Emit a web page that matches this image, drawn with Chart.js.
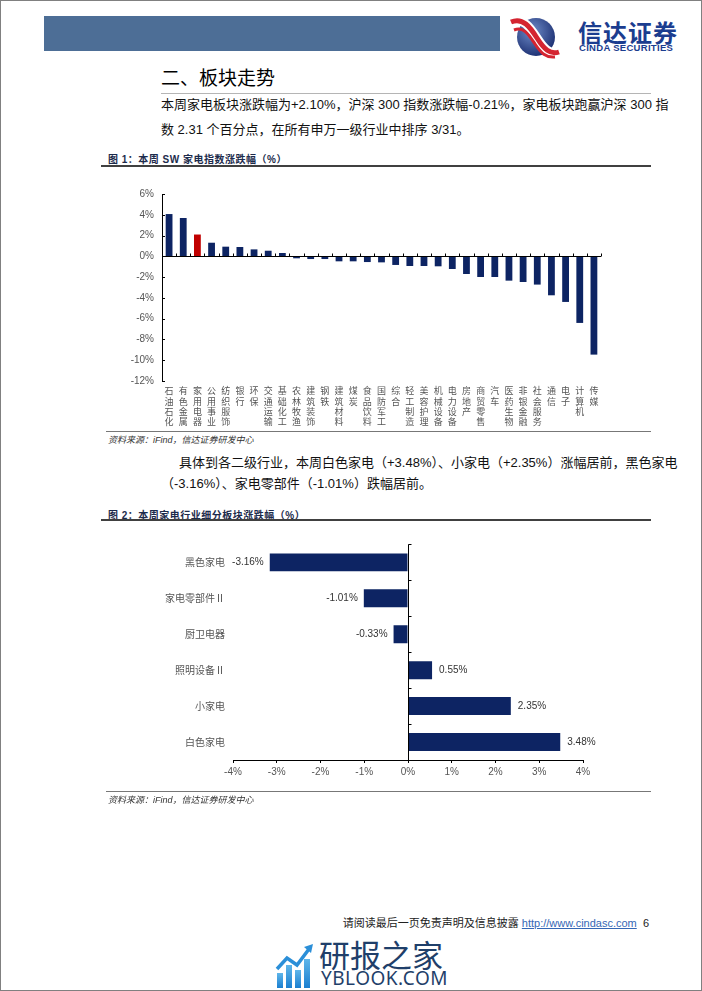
<!DOCTYPE html>
<html>
<head>
<meta charset="utf-8">
<script src="https://cdn.jsdelivr.net/npm/chart.js@4.4.0/dist/chart.umd.min.js"></script>
<style>
html, body { margin: 0; padding: 0; background: #fff; }
#page { position: relative; width: 700px; height: 989px; border: 1px solid #808080; overflow: hidden;
  font-family: "Liberation Sans", "Noto Sans CJK SC", sans-serif; color: #000; }
.abs { position: absolute; }
.para div { white-space: nowrap; }
.just { text-align: justify; text-align-last: justify; }
.figtitle { font-size: 10px; font-weight: bold; color: #1c2b4c; letter-spacing: 0.5px; }
.src { font-size: 9px; font-style: italic; color: #333; }
</style>
</head>
<body>
<div id="page">
  <!-- header band + logo -->
  <div class="abs" style="left:43px;top:15px;width:456px;height:35px;background:#4d6e96;"></div>
  <svg class="abs" style="left:509px;top:14px;" width="50" height="44" viewBox="0 0 50 44">
    <defs>
      <radialGradient id="lg" cx="40%" cy="35%" r="70%">
        <stop offset="0" stop-color="#6f8cc8"/><stop offset="1" stop-color="#1a2d70"/>
      </radialGradient>
    </defs>
    <circle cx="26" cy="22" r="19" fill="url(#lg)"/>
    <path d="M1 7 C 13 2, 20 12, 27 23 S 40 40, 49 37" stroke="#fff" stroke-width="9" fill="none"/>
    <path d="M1 7 C 13 2, 20 12, 27 23 S 40 40, 49 37" stroke="#d42430" stroke-width="5" fill="none"/>
    <path d="M4 15 C 14 11, 19 20, 25 29 S 36 43, 45 42" stroke="#d42430" stroke-width="3" fill="none"/>
  </svg>
  <div class="abs" style="left:577px;top:17px;font-size:24px;font-weight:bold;color:#1b3d8f;font-family:'Noto Sans CJK SC';line-height:28px;letter-spacing:1px;">信达证券</div>
  <div class="abs" style="left:578px;top:42px;font-size:9.5px;font-weight:bold;color:#1b3d8f;line-height:10px;letter-spacing:0.3px;">CINDA SECURITIES</div>

  <!-- section heading -->
  <div class="abs" style="left:160px;top:63px;font-size:19px;line-height:26px;font-family:'Noto Sans CJK SC';">二、板块走势</div>
  <div class="abs" style="left:160px;top:92px;width:490px;height:1px;background:#b5b5b5;"></div>

  <div class="abs para" style="left:160px;top:91px;width:490px;font-size:13px;line-height:25px;color:#111;">
    <div class="just">本周家电板块涨跌幅为+2.10%，沪深 300 指数涨跌幅-0.21%，家电板块跑赢沪深 300 指</div>
    <div>数 2.31 个百分点，在所有申万一级行业中排序 3/31。</div>
  </div>

  <!-- figure 1 -->
  <div class="abs figtitle" style="left:107px;top:150px;">图 1：本周 SW 家电指数涨跌幅（%）</div>
  <div class="abs" style="left:100px;top:164px;width:550px;height:2px;background:#404040;"></div>
  <div class="abs" style="left:110px;top:179px;width:500px;height:251px;"><canvas id="c1"></canvas></div>
  <div class="abs" style="left:105px;top:430px;width:545px;height:1px;background:#777;"></div>
  <div class="abs src" style="left:107px;top:432px;">资料来源：iFind，信达证券研发中心</div>

  <div class="abs para" style="left:160px;top:451px;width:490px;font-size:13px;line-height:21px;color:#111;">
    <div class="just" style="padding-left:18px;">具体到各二级行业，本周白色家电（+3.48%）、小家电（+2.35%）涨幅居前，黑色家电</div>
    <div>（-3.16%）、家电零部件（-1.01%）跌幅居前。</div>
  </div>

  <!-- figure 2 -->
  <div class="abs figtitle" style="left:107px;top:506px;">图 2：本周家电行业细分板块涨跌幅（%）</div>
  <div class="abs" style="left:100px;top:518px;width:550px;height:2px;background:#404040;"></div>
  <div class="abs" style="left:130px;top:530px;width:470px;height:262px;"><canvas id="c2"></canvas></div>
  <div class="abs" style="left:105px;top:790px;width:545px;height:1px;background:#777;"></div>
  <div class="abs src" style="left:107px;top:792px;">资料来源：iFind，信达证券研发中心</div>

  <!-- footer -->
  <div class="abs" style="right:52px;top:914px;font-size:11px;line-height:16px;color:#222;">
    请阅读最后一页免责声明及信息披露 <span style="color:#3567b5;text-decoration:underline;">http://www.cindasc.com</span>&nbsp;&nbsp;6
  </div>

  <!-- watermark -->
  <svg class="abs" style="left:274px;top:942px;" width="40" height="46" viewBox="0 0 40 46">
    <defs>
      <linearGradient id="wg" x1="0" y1="1" x2="0" y2="0">
        <stop offset="0" stop-color="#1b7fd0"/><stop offset="1" stop-color="#5fb6ea"/>
      </linearGradient>
    </defs>
    <rect x="2" y="30" width="6" height="15" fill="url(#wg)"/>
    <rect x="11" y="22" width="6" height="23" fill="url(#wg)"/>
    <rect x="20" y="27" width="6" height="18" fill="url(#wg)"/>
    <rect x="29" y="16" width="6" height="29" fill="url(#wg)"/>
    <path d="M2 26 L12 15 L22 22 L34 6" stroke="#2b8fd8" stroke-width="3.5" fill="none"/>
    <path d="M29 4 L38 1 L36 10 Z" fill="#2b8fd8"/>
  </svg>
  <div class="abs" style="left:318px;top:935px;font-size:31px;line-height:36px;color:#1f3f6a;font-family:'Noto Sans CJK SC';">研报之家</div>
  <div class="abs" style="left:320px;top:966px;font-size:19px;line-height:22px;color:#1f3f6a;font-family:'Noto Sans','DejaVu Sans';letter-spacing:0.5px;">YBLOOK.COM</div>
</div>

<script>
// ---- figure 1: 申万一级行业周涨跌幅 (%) ----
const industries = ['石油石化','有色金属','家用电器','公用事业','纺织服饰','银行','环保','交通运输','基础化工','农林牧渔','建筑装饰','钢铁','建筑材料','煤炭','食品饮料','国防军工','综合','轻工制造','美容护理','机械设备','电力设备','房地产','商贸零售','汽车','医药生物','非银金融','社会服务','通信','电子','计算机','传媒'];
const industryChange = [4.07, 3.69, 2.10, 1.31, 0.93, 0.90, 0.67, 0.54, 0.32, -0.19, -0.26, -0.26, -0.48, -0.48, -0.55, -0.58, -0.83, -0.93, -0.93, -0.96, -1.22, -1.70, -1.99, -1.99, -2.34, -2.47, -2.72, -3.75, -4.39, -6.41, -9.46];
const highlight = '家用电器';
const yTicks1 = [-12, -10, -8, -6, -4, -2, 0, 2, 4, 6];

// ---- figure 2: 家电细分板块周涨跌幅 (%) ----
const subSectors = ['黑色家电','家电零部件Ⅱ','厨卫电器','照明设备Ⅱ','小家电','白色家电'];
const subChange = [-3.16, -1.01, -0.33, 0.55, 2.35, 3.48];
const xTicks2 = [-4, -3, -2, -1, 0, 1, 2, 3, 4];

const navy = '#0d2463';
const red = '#c00000';
const tickFont = { family: 'Liberation Sans', size: 10 };
const catFont = { family: 'Noto Sans CJK SC', size: 10, lineHeight: 1.08 };
const vertFont = { family: 'Noto Sans CJK SC', size: 9, lineHeight: 1.12 };

// zero line with small boundary ticks, value ticks pointing inward
const axisMarks = {
  id: 'axisMarks',
  afterDatasetsDraw(chart) {
    const ctx = chart.ctx, a = chart.chartArea;
    const horiz = chart.options.indexAxis === 'y';
    const cat = horiz ? chart.scales.y : chart.scales.x;
    const val = horiz ? chart.scales.x : chart.scales.y;
    const z = Math.round(val.getPixelForValue(0)) + 0.5;
    const n = chart.data.labels.length;
    ctx.save();
    ctx.strokeStyle = '#000';
    ctx.lineWidth = 1;
    ctx.beginPath();
    if (horiz) { ctx.moveTo(z, a.top); ctx.lineTo(z, a.bottom); }
    else { ctx.moveTo(a.left, z); ctx.lineTo(a.right, z); }
    for (let i = 0; i <= n; i++) {
      let p;
      if (i === 0) p = horiz ? a.top : a.left;
      else if (i === n) p = horiz ? a.bottom : a.right;
      else p = (cat.getPixelForValue(i - 1) + cat.getPixelForValue(i)) / 2;
      p = Math.round(p) + 0.5;
      if (horiz) { ctx.moveTo(z, p); ctx.lineTo(z + 3, p); }
      else { ctx.moveTo(p, z); ctx.lineTo(p, z - 3); }
    }
    if (!horiz) {
      val.ticks.forEach(t => {
        const y = Math.round(val.getPixelForValue(t.value)) + 0.5;
        ctx.moveTo(a.left, y); ctx.lineTo(a.left + 3, y);
      });
    }
    ctx.stroke();
    ctx.restore();
  }
};

const barLabels = {
  id: 'barLabels',
  afterDatasetsDraw(chart) {
    const ctx = chart.ctx;
    const meta = chart.getDatasetMeta(0);
    ctx.save();
    ctx.font = '10px "Liberation Sans"';
    ctx.fillStyle = '#333';
    ctx.textBaseline = 'middle';
    meta.data.forEach((el, i) => {
      const v = chart.data.datasets[0].data[i];
      const txt = v.toFixed(2) + '%';
      if (v < 0) { ctx.textAlign = 'right'; ctx.fillText(txt, el.x - 6, el.y); }
      else { ctx.textAlign = 'left'; ctx.fillText(txt, el.x + 7, el.y); }
    });
    ctx.restore();
  }
};

window.onload = function () {
  new Chart(document.getElementById('c1').getContext('2d'), {
    type: 'bar',
    data: {
      labels: industries.map(s => s.split('')),
      datasets: [{
        data: industryChange,
        backgroundColor: industries.map(s => s === highlight ? red : navy),
        barPercentage: 0.48,
        categoryPercentage: 1
      }]
    },
    options: {
      responsive: true,
      maintainAspectRatio: false,
      animation: false,
      layout: { padding: { top: 2, right: 10, left: 0, bottom: 0 } },
      plugins: { legend: { display: false }, tooltip: { enabled: false } },
      scales: {
        x: {
          grid: { display: false },
          border: { display: false },
          ticks: { autoSkip: false, maxRotation: 0, minRotation: 0, padding: -3, color: '#555', font: vertFont },
          afterFit(s) { s.height = 50; }
        },
        y: {
          min: -12, max: 6,
          afterBuildTicks(s) { s.ticks = yTicks1.map(v => ({ value: v })); },
          grid: { display: false, drawTicks: false },
          border: { display: true, color: '#000', width: 1 },
          ticks: { padding: 8, color: '#555', font: tickFont, callback: v => v + '%' },
          afterFit(s) { s.width = 51; }
        }
      }
    },
    plugins: [axisMarks]
  });

  new Chart(document.getElementById('c2').getContext('2d'), {
    type: 'bar',
    data: {
      labels: subSectors,
      datasets: [{
        data: subChange,
        backgroundColor: navy,
        barPercentage: 0.5,
        categoryPercentage: 1
      }]
    },
    options: {
      indexAxis: 'y',
      responsive: true,
      maintainAspectRatio: false,
      animation: false,
      layout: { padding: { top: 8, right: 18, left: 0, bottom: 0 } },
      plugins: { legend: { display: false }, tooltip: { enabled: false } },
      scales: {
        x: {
          min: -4, max: 4,
          afterBuildTicks(s) { s.ticks = xTicks2.map(v => ({ value: v })); },
          grid: { drawOnChartArea: false, tickLength: 3, tickColor: '#000' },
          border: { display: true, color: '#000', width: 1 },
          ticks: { padding: 3, color: '#555', font: tickFont, callback: v => v + '%' },
          afterFit(s) { s.height = 33; }
        },
        y: {
          grid: { display: false, drawTicks: false },
          border: { display: false },
          ticks: { padding: 8, color: '#555', font: catFont },
          afterFit(s) { s.width = 102; }
        }
      }
    },
    plugins: [axisMarks, barLabels]
  });
};
</script>
</body>
</html>
